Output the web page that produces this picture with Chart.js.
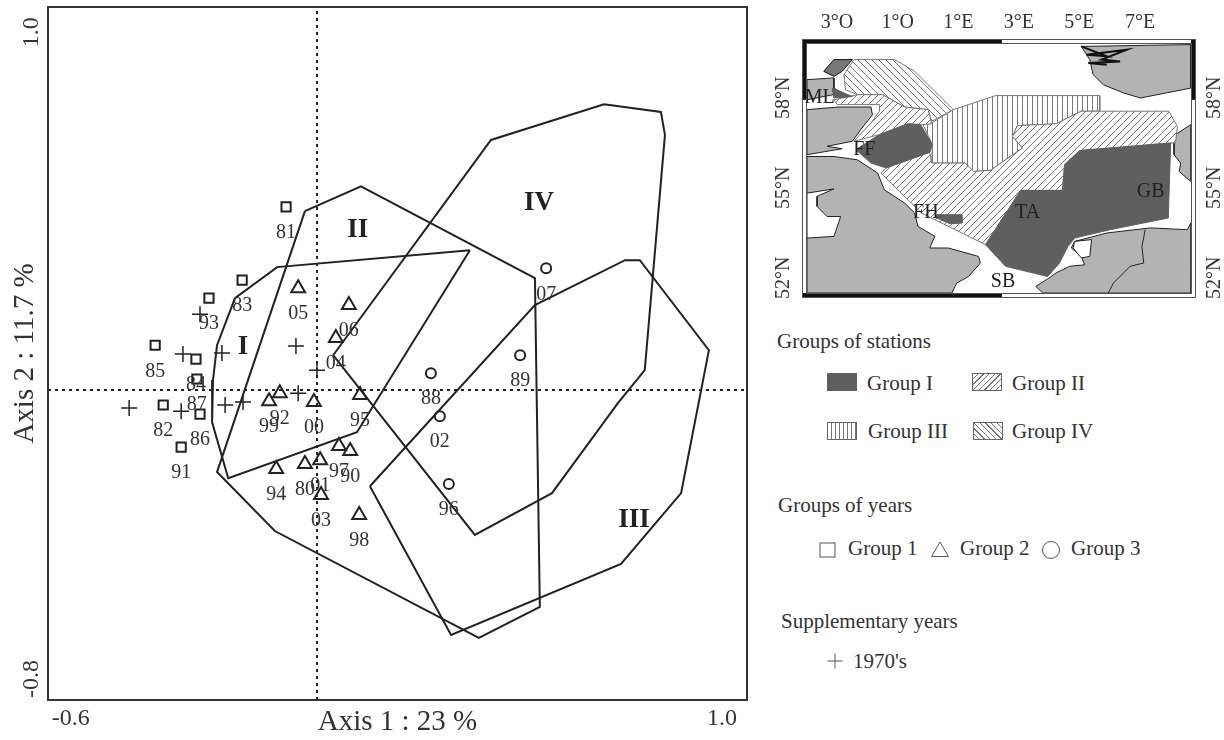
<!DOCTYPE html>
<html>
<head>
<meta charset="utf-8">
<title>Axis 1 / Axis 2</title>
<script src="https://cdn.jsdelivr.net/npm/chart.js@4"></script>
<style>
    html, body { margin: 0; padding: 0; background: #fff; overflow: hidden; }
    body { width: 1224px; height: 740px; position: relative; font-family: "Liberation Serif", serif; color: #333; }
    canvas { position: absolute; display: block; }
    .t { position: absolute; font-size: 21px; line-height: 24px; white-space: nowrap; transform: translateY(-50%); }
    .sw { position: absolute; box-sizing: border-box; border: 1px solid #666; }
    svg { position: absolute; }
</style>
</head>
<body>
<canvas id="ordination" width="770" height="740" style="left:0;top:0"></canvas>
<canvas id="map" width="454" height="310" style="left:770px;top:0"></canvas>

<div class="t" style="left:777px;top:341px">Groups of stations</div>
<div class="sw" style="left:827px;top:373px;width:30px;height:18px;background:#5f5f5f;border:0"></div>
<div class="t" style="left:867px;top:383px">Group I</div>
<div class="sw" style="left:972px;top:373px;width:30px;height:18px;background:repeating-linear-gradient(135deg,#fff 0 3px,#777 3px 4px)"></div>
<div class="t" style="left:1012px;top:383px">Group II</div>
<div class="sw" style="left:827px;top:422px;width:30px;height:18px;background:repeating-linear-gradient(90deg,#fff 0 3px,#777 3px 4px)"></div>
<div class="t" style="left:868px;top:431px">Group III</div>
<div class="sw" style="left:973px;top:422px;width:30px;height:18px;background:repeating-linear-gradient(45deg,#fff 0 3px,#777 3px 4px)"></div>
<div class="t" style="left:1012px;top:431px">Group IV</div>

<div class="t" style="left:778px;top:505px">Groups of years</div>
<svg style="left:819px;top:541px" width="18" height="18"><rect x="1" y="2" width="15" height="14" fill="none" stroke="#555"/></svg>
<div class="t" style="left:848px;top:548px">Group 1</div>
<svg style="left:930px;top:540px" width="20" height="18"><path d="M1.5 16.5 H18.5 L10 2 Z" fill="none" stroke="#555"/></svg>
<div class="t" style="left:960px;top:548px">Group 2</div>
<svg style="left:1041px;top:540px" width="20" height="20"><circle cx="10" cy="10" r="8.5" fill="none" stroke="#555"/></svg>
<div class="t" style="left:1071px;top:548px">Group 3</div>

<div class="t" style="left:781px;top:621px">Supplementary years</div>
<svg style="left:826px;top:652px" width="18" height="18"><path d="M1.5 9 H16.5 M9 1.5 V16.5" fill="none" stroke="#555"/></svg>
<div class="t" style="left:853px;top:661px">1970's</div>

<script>
// group 1 years (squares)
var years1 = ['81', '83', '93', '85', '84', '87', '82', '86', '91'];
var x1 = [-0.069, -0.167, -0.241, -0.361, -0.270, -0.268, -0.343, -0.261, -0.303];
var y1 = [0.478, 0.287, 0.240, 0.117, 0.081, 0.029, -0.039, -0.063, -0.149];

// group 2 years (triangles)
var years2 = ['05', '06', '04', '92', '99', '00', '95', '97', '90', '94', '80', '01', '03', '98'];
var x2 = [-0.042, 0.071, 0.042, -0.083, -0.107, -0.007, 0.096, 0.049, 0.074, -0.091, -0.027, 0.007, 0.009, 0.094];
var y2 = [0.266, 0.222, 0.136, -0.008, -0.029, -0.031, -0.013, -0.146, -0.159, -0.206, -0.193, -0.183, -0.274, -0.326];

// group 3 years (circles)
var years3 = ['07', '89', '88', '02', '96'];
var x3 = [0.511, 0.453, 0.254, 0.274, 0.294];
var y3 = [0.318, 0.091, 0.044, -0.068, -0.245];

// supplementary years, 1970's
var x70 = [-0.261, -0.299, -0.212, -0.047, 0.000, -0.419, -0.303, -0.205, -0.165, -0.042];
var y70 = [0.198, 0.094, 0.097, 0.115, 0.052, -0.047, -0.055, -0.039, -0.031, -0.008];

// station group hulls
var hullIx = [0.341, -0.089, -0.183, -0.223, -0.232, -0.234, -0.198, 0.089, 0.341];
var hullIy = [0.365, 0.321, 0.240, 0.117, 0.026, -0.084, -0.230, -0.110, 0.365];
var hullIIx = [-0.027, 0.098, 0.486, 0.497, 0.361, -0.094, -0.223, -0.027];
var hullIIy = [0.467, 0.532, 0.292, -0.566, -0.647, -0.368, -0.214, 0.467];
var hullIIIx = [0.118, 0.486, 0.687, 0.720, 0.874, 0.812, 0.678, 0.299, 0.118];
var hullIIIy = [-0.251, 0.222, 0.339, 0.339, 0.104, -0.269, -0.454, -0.639, -0.251];
var hullIVx = [0.036, 0.388, 0.640, 0.767, 0.776, 0.731, 0.671, 0.524, 0.352, 0.036];
var hullIVy = [0.091, 0.653, 0.746, 0.726, 0.666, 0.052, -0.034, -0.269, -0.378, 0.091];

var hullNames = ['I', 'II', 'III', 'IV'];
var hullNameX = [-0.165, 0.091, 0.707, 0.495];
var hullNameY = [0.112, 0.418, -0.339, 0.488];

var xMin = -0.6, xMax = 0.959, yMin = -0.809, yMax = 1;
var xTickAt = [-0.549, 0.903];
var xTickText = ['-0.6', '1.0'];
var yTickAt = [-0.754, 0.934];
var yTickText = ['-0.8', '1.0'];

// map: lon / lat of every shape
var lonTicks = [-3, -1, 1, 3, 5, 7];
var lonText = ['3°O', '1°O', '1°E', '3°E', '5°E', '7°E'];
var latTicks = [52, 55, 58];
var latText = ['52°N', '55°N', '58°N'];

var scotNorthLon = [-3.99, -3.10, -3.10, -2.83, -3.99];
var scotNorthLat = [58.60, 58.66, 58.32, 58.16, 57.93];
var scotLon = [-3.99, -2.94, -1.88, -1.83, -2.22, -2.49, -3.33, -2.83, -3.99];
var scotLat = [57.60, 57.69, 57.69, 57.43, 56.93, 56.55, 56.38, 56.30, 56.10];
var englandLon = [-3.99, -3.10, -2.33, -1.66, -1.44, -0.77, -0.44, -0.33, 0.23, 0.06, 0.67, 1.67, 1.73, 1.34, 0.95, 0.79, -3.99];
var englandLat = [56.04, 56.04, 55.93, 55.49, 54.93, 54.49, 54.16, 53.71, 53.38, 52.99, 52.99, 52.71, 52.49, 52.04, 51.82, 51.49, 51.49];
var irishLon = [-3.99, -3.10, -3.66, -3.66, -3.33, -2.88, -3.10, -3.99];
var irishLat = [54.82, 54.96, 54.71, 54.38, 54.04, 54.04, 53.38, 53.32];
var norwayLon = [5.06, 8.67, 8.67, 7.01, 6.45, 5.79, 5.45, 5.34];
var norwayLat = [59.71, 59.77, 58.32, 57.99, 58.16, 58.43, 58.77, 59.27];
var fjordLon = [5.06, 5.90, 5.23, 6.56, 5.73, 6.34, 5.29, 5.90];
var fjordLat = [59.71, 59.38, 59.43, 59.60, 59.27, 59.21, 59.16, 59.10];
var orkneyLon = [-3.44, -3.10, -2.49, -2.83, -3.10];
var orkneyLat = [58.88, 59.27, 59.27, 58.88, 58.71];
var denmarkLon = [8.67, 8.17, 8.12, 8.12, 8.34, 8.29, 8.67];
var denmarkLat = [57.10, 56.77, 56.49, 56.10, 55.82, 55.54, 55.21];
var contLon = [8.67, 8.56, 7.34, 5.90, 4.84, 4.73, 5.06, 5.17, 4.67, 4.23, 3.95, 3.56, 3.79, 8.67];
var contLat = [53.82, 53.60, 53.66, 53.49, 53.21, 52.99, 52.71, 52.43, 52.38, 52.16, 51.96, 51.71, 51.49, 51.49];
var lakeLon = [4.84, 5.40, 5.34, 5.06, 4.79];
var lakeLat = [53.21, 53.27, 52.71, 52.66, 52.99];
var riverLon = [7.17, 7.06, 7.12, 6.67, 6.12, 5.95];
var riverLat = [53.60, 53.04, 52.49, 52.38, 51.82, 51.49];

var areaTaLon = [8.01, 5.01, 4.51, 4.45, 3.06, 1.90, 2.56, 3.95, 4.34, 4.62, 4.84, 6.01, 7.93];
var areaTaLat = [56.49, 56.24, 55.77, 54.91, 54.91, 53.10, 52.38, 52.04, 52.49, 53.04, 53.32, 53.60, 53.99];
var areaFfLon = [-0.66, -0.24, 0.15, 0.06, -1.38, -1.88, -2.38, -1.60];
var areaFfLat = [57.13, 57.10, 56.43, 56.18, 55.66, 55.82, 56.27, 56.77];
var areaFhLon = [0.29, 1.12, 1.12, 0.73, 0.29];
var areaFhLat = [54.10, 54.10, 53.82, 53.80, 53.99];
var areaMlLon = [-3.16, -2.49, -3.10];
var areaMlLat = [58.32, 58.04, 57.99];
var area2aLon = [5.06, 7.95, 8.23, 8.17, 8.01, 5.01, 4.51, 4.43, 3.06, 1.90, 0.34, -0.22, -1.55, -1.38, 0.06, 0.12, 1.23, 1.51, 2.06, 3.12, 2.79, 2.95, 4.23];
var area2aLat = [57.55, 57.55, 57.04, 56.49, 56.49, 56.24, 55.77, 54.91, 54.91, 53.10, 53.88, 54.16, 55.49, 55.66, 56.18, 55.82, 55.82, 55.54, 55.58, 56.32, 56.71, 57.07, 57.13];
var area2bLon = [-3.10, -2.33, -1.49, -0.77, 0.01, 0.12, -0.24, -0.66, -1.60, -2.44, -1.88, -1.60, -1.60, -2.99];
var area2bLat = [57.93, 58.10, 58.10, 57.69, 57.60, 57.13, 57.10, 57.13, 56.77, 56.55, 57.16, 57.54, 57.77, 57.77];
var area3Lon = [-0.16, 0.12, 0.84, 2.23, 5.67, 5.67, 5.06, 4.23, 2.95, 2.79, 3.12, 2.06, 1.51, 1.23, 0.12, 0.15];
var area3Lat = [57.10, 57.16, 57.60, 58.07, 58.07, 57.55, 57.55, 57.13, 57.07, 56.71, 56.32, 55.58, 55.54, 55.82, 55.82, 56.43];
var area4Lon = [-2.77, -2.44, -1.10, -0.44, 0.23, 0.84, 0.12, 0.01, -0.77, -1.49, -2.33, -2.72];
var area4Lat = [58.77, 59.27, 59.27, 58.88, 58.21, 57.60, 57.21, 57.60, 57.69, 58.10, 58.10, 58.27];

var placeNames = ['ML', 'FF', 'FH', 'TA', 'GB', 'SB'];
var placeLon = [-3.57, -2.10, -0.07, 3.29, 7.35, 2.48];
var placeLat = [58.01, 56.27, 54.15, 54.15, 54.88, 51.87];

var bandLon = 2.44, bandLat = 57.93;

function pts(xs, ys) {
    return xs.map(function (v, i) { return { x: v, y: ys[i] }; });
}

var inkColor = '#333';
var lineColor = '#222';
var serif = '"Liberation Serif", serif';

function hullSet(xs, ys) {
    return { data: pts(xs, ys), showLine: true, borderColor: lineColor, borderWidth: 2, pointRadius: 0, tension: 0, fill: false };
}

function yearSet(xs, ys, names, style, radius) {
    return { data: pts(xs, ys), names: names, showLine: false, pointStyle: style, pointRadius: radius,
        pointBorderWidth: 2, pointBorderColor: lineColor, pointBackgroundColor: 'transparent' };
}

var ordinationLabels = {
    id: 'ordinationLabels',
    afterDatasetsDraw: function (chart) {
        var ctx = chart.ctx;
        ctx.save();
        ctx.textAlign = 'center';
        ctx.textBaseline = 'middle';
        ctx.fillStyle = inkColor;
        ctx.font = '20px ' + serif;
        chart.data.datasets.forEach(function (ds, d) {
            if (!ds.names) return;
            chart.getDatasetMeta(d).data.forEach(function (p, i) {
                ctx.fillText(ds.names[i], p.x, p.y + 26);
            });
        });
        ctx.fillStyle = '#222';
        ctx.font = 'bold 27px ' + serif;
        hullNames.forEach(function (n, i) {
            ctx.fillText(n, chart.scales.x.getPixelForValue(hullNameX[i]), chart.scales.y.getPixelForValue(hullNameY[i]));
        });
        var a = chart.chartArea;
        ctx.strokeStyle = '#333';
        ctx.lineWidth = 2;
        ctx.strokeRect(a.left, a.top, a.right - a.left, a.bottom - a.top);
        ctx.restore();
    }
};

new Chart(document.getElementById('ordination'), {
    type: 'scatter',
    plugins: [ordinationLabels],
    data: {
        datasets: [
            yearSet(x1, y1, years1, 'rect', 6.5),
            yearSet(x2, y2, years2, 'triangle', 8),
            yearSet(x3, y3, years3, 'circle', 5),
            { data: pts(x70, y70), showLine: false, pointStyle: 'cross', pointRadius: 8, pointBorderWidth: 1.5, pointBorderColor: lineColor },
            hullSet(hullIx, hullIy),
            hullSet(hullIIx, hullIIy),
            hullSet(hullIIIx, hullIIIy),
            hullSet(hullIVx, hullIVy),
            { data: pts([0, 0], [yMin, yMax]), showLine: true, borderColor: lineColor, borderWidth: 2, borderDash: [3, 4], pointRadius: 0 },
            { data: pts([xMin, xMax], [0, 0]), showLine: true, borderColor: lineColor, borderWidth: 2, borderDash: [3, 4], pointRadius: 0 }
        ]
    },
    options: {
        responsive: false,
        animation: false,
        events: [],
        layout: { autoPadding: false, padding: { top: 7, right: 23, left: 0, bottom: 0 } },
        plugins: { legend: { display: false }, tooltip: { enabled: false } },
        scales: {
            x: {
                type: 'linear', min: xMin, max: xMax,
                grid: { display: false, drawTicks: false },
                border: { display: false },
                afterFit: function (s) { s.height = 40; s.paddingLeft = 0; s.paddingRight = 0; },
                afterBuildTicks: function (s) { s.ticks = xTickAt.map(function (v) { return { value: v }; }); },
                ticks: {
                    maxRotation: 0, padding: 4, color: inkColor, font: { family: serif, size: 24 },
                    callback: function (v) { return xTickText[xTickAt.indexOf(v)]; }
                },
                title: { display: true, text: 'Axis 1 : 23 %', color: inkColor, font: { family: serif, size: 29 }, padding: 0 }
            },
            y: {
                type: 'linear', min: yMin, max: yMax,
                grid: { display: false, drawTicks: false },
                border: { display: false },
                afterFit: function (s) { s.width = 48; s.paddingTop = 0; s.paddingBottom = 0; },
                afterBuildTicks: function (s) { s.ticks = yTickAt.map(function (v) { return { value: v }; }); },
                ticks: {
                    minRotation: 90, maxRotation: 90, crossAlign: 'center', padding: -3, color: inkColor,
                    font: { family: serif, size: 24 },
                    callback: function (v) { return yTickText[yTickAt.indexOf(v)]; }
                },
                title: { display: true, text: 'Axis 2 : 11.7 %', color: inkColor, font: { family: serif, size: 29 }, padding: 8 }
            }
        }
    }
});

// hatch tiles for the station groups
function hatch(kind) {
    var size = kind === 'v' ? 5 : 7;
    var c = document.createElement('canvas');
    c.width = size;
    c.height = size;
    var g = c.getContext('2d');
    g.fillStyle = '#fff';
    g.fillRect(0, 0, size, size);
    g.strokeStyle = '#777';
    g.lineWidth = 1;
    g.beginPath();
    if (kind === 'v') {
        g.moveTo(2.5, 0); g.lineTo(2.5, size);
    } else if (kind === 'up') {
        g.moveTo(-1, 1); g.lineTo(1, -1);
        g.moveTo(0, size); g.lineTo(size, 0);
        g.moveTo(size - 1, size + 1); g.lineTo(size + 1, size - 1);
    } else {
        g.moveTo(-1, size - 1); g.lineTo(1, size + 1);
        g.moveTo(0, 0); g.lineTo(size, size);
        g.moveTo(size - 1, -1); g.lineTo(size + 1, 1);
    }
    g.stroke();
    return g.createPattern(c, 'repeat');
}

var landColor = '#b3b3b3';
var darkColor = '#5f5f5f';

function shape(lon, lat, fillColor, edge, edgeWidth) {
    return { data: pts(lon, lat).concat([{ x: lon[0], y: lat[0] }]), showLine: true, tension: 0, pointRadius: 0,
        borderColor: edge, borderWidth: edgeWidth, backgroundColor: fillColor, fill: 'shape' };
}

var mapSets = [
    shape(scotNorthLon, scotNorthLat, landColor, '#222', 1),
    shape(scotLon, scotLat, landColor, '#222', 1),
    shape(englandLon, englandLat, landColor, '#222', 1),
    shape(irishLon, irishLat, '#fff', '#222', 1),
    shape(norwayLon, norwayLat, landColor, '#222', 1),
    shape(orkneyLon, orkneyLat, '#777', '#111', 1),
    shape(denmarkLon, denmarkLat, landColor, '#222', 1),
    shape(contLon, contLat, landColor, '#222', 1),
    shape(lakeLon, lakeLat, '#fff', '#222', 1),
    { data: pts(fjordLon, fjordLat), showLine: true, tension: 0, pointRadius: 0, borderColor: '#111', borderWidth: 2 },
    { data: pts(riverLon, riverLat), showLine: true, tension: 0, pointRadius: 0, borderColor: '#222', borderWidth: 1 },
    shape(area4Lon, area4Lat, hatch('down'), '#777', 1),
    shape(area3Lon, area3Lat, hatch('v'), '#777', 1),
    shape(area2aLon, area2aLat, hatch('up'), '#777', 1),
    shape(area2bLon, area2bLat, hatch('up'), '#777', 1),
    shape(areaTaLon, areaTaLat, darkColor, darkColor, 1),
    shape(areaFfLon, areaFfLat, darkColor, darkColor, 1),
    shape(areaFhLon, areaFhLat, darkColor, darkColor, 1),
    shape(areaMlLon, areaMlLat, darkColor, darkColor, 1)
];
// first in the list is drawn first
mapSets.forEach(function (ds, i) { ds.order = mapSets.length - i; });

var mapDecor = {
    id: 'mapDecor',
    afterDatasetsDraw: function (chart) {
        var ctx = chart.ctx;
        var a = chart.chartArea;
        var bx = chart.scales.x.getPixelForValue(bandLon);
        var by = chart.scales.y.getPixelForValue(bandLat);
        var off = 5;
        ctx.save();
        ctx.fillStyle = '#111';
        ctx.fillRect(a.left - off, a.top - off, bx - a.left + off, off);
        ctx.fillRect(a.left - off, a.bottom, bx - a.left + off, off);
        ctx.fillRect(a.left - off, a.top - off, off, by - a.top + off);
        ctx.fillRect(a.right, a.top - off, off, by - a.top + off);
        ctx.strokeStyle = '#555';
        ctx.lineWidth = 1;
        ctx.strokeRect(a.left - off + 0.5, a.top - off + 0.5, a.right - a.left + 2 * off - 1, a.bottom - a.top + 2 * off - 1);
        ctx.strokeRect(a.left - 0.5, a.top - 0.5, a.right - a.left + 1, a.bottom - a.top + 1);
        ctx.textAlign = 'center';
        ctx.textBaseline = 'middle';
        ctx.fillStyle = '#222';
        ctx.font = '20px ' + serif;
        placeNames.forEach(function (n, i) {
            ctx.fillText(n, chart.scales.x.getPixelForValue(placeLon[i]), chart.scales.y.getPixelForValue(placeLat[i]));
        });
        ctx.restore();
    }
};

function latAxis(pos, pad) {
    return {
        type: 'linear', position: pos, min: 51.49, max: 59.79,
        grid: { display: false, drawTicks: false },
        border: { display: false },
        afterFit: function (s) { s.width = pos === 'left' ? 37 : 33; s.paddingTop = 0; s.paddingBottom = 0; },
        afterBuildTicks: function (s) { s.ticks = latTicks.map(function (v) { return { value: v }; }); },
        ticks: {
            minRotation: 90, maxRotation: 90, crossAlign: 'center', padding: pad, color: inkColor,
            font: { family: serif, size: 20 },
            callback: function (v) { return latText[latTicks.indexOf(v)]; }
        }
    };
}

new Chart(document.getElementById('map'), {
    type: 'scatter',
    plugins: [mapDecor],
    data: { datasets: mapSets },
    options: {
        responsive: false,
        animation: false,
        events: [],
        layout: { autoPadding: false, padding: { bottom: 17 } },
        plugins: { legend: { display: false }, tooltip: { enabled: false } },
        scales: {
            x: {
                type: 'linear', position: 'top', min: -3.99, max: 8.68,
                grid: { display: false, drawTicks: false },
                border: { display: false },
                afterFit: function (s) { s.height = 44; s.paddingLeft = 0; s.paddingRight = 0; },
                afterBuildTicks: function (s) { s.ticks = lonTicks.map(function (v) { return { value: v }; }); },
                ticks: {
                    maxRotation: 0, padding: 9, color: inkColor, font: { family: serif, size: 20 },
                    callback: function (v) { return lonText[lonTicks.indexOf(v)]; }
                }
            },
            y: latAxis('left', 2),
            yr: latAxis('right', 3)
        }
    }
});
</script>
</body>
</html>
